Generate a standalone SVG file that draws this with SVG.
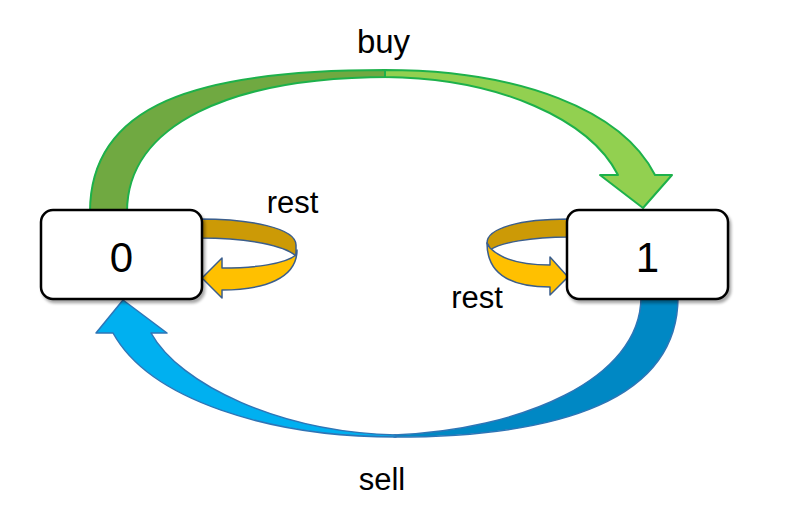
<svg xmlns="http://www.w3.org/2000/svg" width="805" height="521" viewBox="0 0 805 521">
<defs>
<filter id="sh" x="-10%" y="-10%" width="130%" height="140%">
<feGaussianBlur in="SourceAlpha" stdDeviation="1.5"/>
<feOffset dx="2" dy="3" result="b"/>
<feComponentTransfer><feFuncA type="linear" slope="0.35"/></feComponentTransfer>
<feMerge><feMergeNode/><feMergeNode in="SourceGraphic"/></feMerge>
</filter>
<style>
.box{fill:#ffffff;stroke:#000000;stroke-width:2.5}
.lbl{font-family:"Liberation Sans",Arial,sans-serif;fill:#000000;text-anchor:middle}
.g1{fill:#70A941;stroke:#1DB14B;stroke-width:2;stroke-linejoin:round}
.g2{fill:#92D050;stroke:#1DB14B;stroke-width:2;stroke-linejoin:round}
.b1{fill:#0088C4;stroke:#2E75B6;stroke-width:1.5;stroke-linejoin:round}
.b2{fill:#00B0F0;stroke:#2E75B6;stroke-width:1.5;stroke-linejoin:round}
.y1{fill:#CC9A06;stroke:#3B5E8C;stroke-width:1.5;stroke-linejoin:round}
.y2{fill:#FFC000;stroke:#3B5E8C;stroke-width:1.5;stroke-linejoin:round}
</style>
</defs>
<rect width="805" height="521" fill="#ffffff"/>
<g id="connectors">
<g id="buy-arrow">
<path class="g1" d="M 90,212 C 90,105 195,70 385,70 L 390,77 C 230,77 127,125 127,212 Z"/>
<path class="g2" d="M 385,70 C 520,70 622,110 655,175 L 672,175 L 643,208 L 600,175 L 618,175 C 590,120 500,78 385,77 Z"/>
</g>
<g id="sell-arrow">
<path class="b1" d="M 678,297 C 678,400 560,437 394,437 L 394,435 C 520,430 641,380 641,297 Z"/>
<path class="b2" d="M 396,437 C 270,437 150,400 113,333 L 96,333 L 123,300 L 167,333 L 151,333 C 180,385 280,432 396,435 Z"/>
</g>
<g id="rest0-arrow">
<path class="y1" d="M 200,219 C 250,219 296,228 296,245 L 296,256 C 285,246 250,238 200,238 Z"/>
<path class="y2" d="M 296,255 C 285,264 255,268 222,268 L 222,258 L 202,278 L 222,298 L 222,290 C 265,290 297,278 297,250 Z"/>
</g>
<g id="rest1-arrow">
<path class="y1" d="M 569,219 C 520,219 487,228 487,243 L 490,250 C 500,243 530,237 569,237 Z"/>
<path class="y2" d="M 490,248 C 500,258 520,265 550,265 L 550,257 L 568,277 L 550,295 L 550,287 C 512,287 487,275 487,243 Z"/>
</g>
</g>
<g id="node0">
<rect class="box" x="41" y="210" width="161" height="89" rx="12" filter="url(#sh)"/>
<text class="lbl" x="121.5" y="271.5" font-size="42">0</text>
</g>
<g id="node1">
<rect class="box" x="567" y="210" width="161" height="89" rx="12" filter="url(#sh)"/>
<text class="lbl" x="647.5" y="271.5" font-size="42">1</text>
</g>
<g id="labels">
<text class="lbl" x="383.5" y="53" font-size="33">buy</text>
<text class="lbl" x="292.5" y="213" font-size="31">rest</text>
<text class="lbl" x="477" y="308" font-size="31">rest</text>
<text class="lbl" x="382" y="490" font-size="31">sell</text>
</g>
</svg>
